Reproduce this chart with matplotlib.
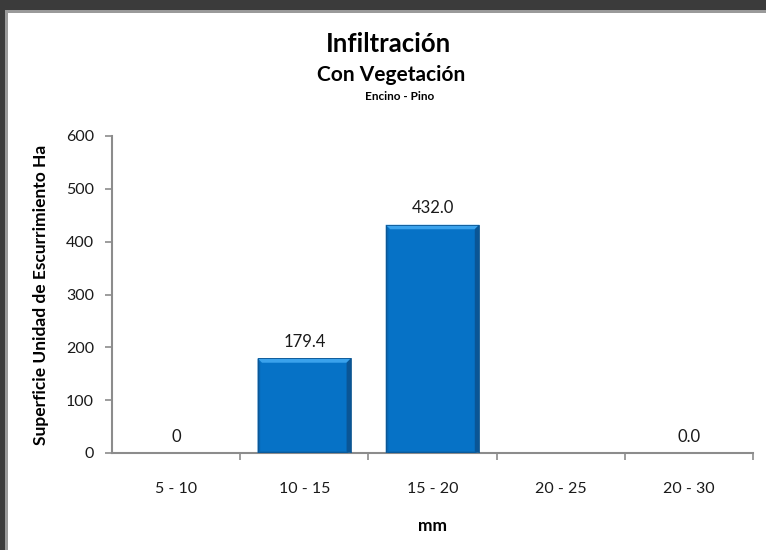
import matplotlib
matplotlib.use("Agg")
import matplotlib.pyplot as plt
from matplotlib.patches import Rectangle, Polygon

plt.rcParams['font.family'] = ['Lato', 'DejaVu Sans']

categories = ["5 - 10", "10 - 15", "15 - 20", "20 - 25", "20 - 30"]
values = [0.0, 179.4, 432.0, 0.0, 0.0]
value_labels = ["0", "179.4", "432.0", "", "0.0"]
y_ticks = [0, 100, 200, 300, 400, 500, 600]

title = "Infiltración"
subtitle = "Con Vegetación"
subsubtitle = "Encino - Pino"
xlabel = "mm"
ylabel = "Superficie Unidad de Escurrimiento Ha"

W, H = 766, 550
fig = plt.figure(figsize=(W / 100, H / 100), dpi=100)
fig.patch.set_facecolor("#3b3b3b")

# white chart sheet with a light grey rim
fig.patches.append(Rectangle((5 / W, 0), 1, 1 - 10 / H, transform=fig.transFigure,
                             facecolor="#9a9a9a", edgecolor="none", zorder=-10))
fig.patches.append(Rectangle((8 / W, 0), 1, 1 - 13 / H, transform=fig.transFigure,
                             facecolor="white", edgecolor="none", zorder=-9))

ax = fig.add_axes([112 / W, 1 - 453 / H, 641 / W, 317 / H])
ax.set_facecolor("none")
ax.set_zorder(5)

x = list(range(len(categories)))
bar_w = 0.73
bars = ax.bar(x, values, width=bar_w, color="#0672c6", edgecolor="none", zorder=2)

ax.set_xlim(-0.5, len(categories) - 0.5)
ax.set_ylim(0, 600)

# bevel shading on each bar
px_x = 1.0 / 128.0 * 4.5
px_y = 600.0 / 317.0 * 4.5
for b in bars:
    h = b.get_height()
    if h <= 0:
        continue
    x0, x1 = b.get_x(), b.get_x() + b.get_width()
    top = h
    ax.add_patch(Polygon([(x0, top), (x1, top), (x1 - px_x, top - px_y), (x0 + px_x, top - px_y)],
                         closed=True, facecolor="#3aa2ec", edgecolor="none", zorder=3))
    ax.add_patch(Polygon([(x1, top), (x1, 0), (x1 - px_x, px_y * 0.3), (x1 - px_x, top - px_y)],
                         closed=True, facecolor="#0a5595", edgecolor="none", zorder=3))
    ax.add_patch(Polygon([(x0, top), (x0, 0), (x0 + px_x * 0.6, px_y * 0.3), (x0 + px_x * 0.6, top - px_y)],
                         closed=True, facecolor="#0866b2", edgecolor="none", zorder=3))
    ax.add_patch(Polygon([(x0, 0), (x1, 0), (x1 - px_x, px_y * 0.3), (x0 + px_x * 0.6, px_y * 0.3)],
                         closed=True, facecolor="#085a9c", edgecolor="none", zorder=3))
    ax.add_patch(Rectangle((x0, 0), x1 - x0, top, facecolor="none",
                           edgecolor="#0d5590", linewidth=0.6, zorder=4))

for xi, v, lab in zip(x, values, value_labels):
    if lab:
        ax.annotate(lab, (xi, v), xytext=(0, 6), textcoords="offset points",
                    ha="center", va="bottom", fontsize=12, color="#1a1a1a")

for s in ("top", "right"):
    ax.spines[s].set_visible(False)
for s in ("left", "bottom"):
    ax.spines[s].set_color("#8c8c8c")
    ax.spines[s].set_linewidth(1.5)

ax.set_yticks(y_ticks)
ax.set_yticklabels([str(t) for t in y_ticks])
ax.set_xticks(x)
ax.set_xticklabels(categories)
ax.tick_params(axis="x", length=0, pad=21, labelsize=11.5, colors="#1a1a1a")
ax.tick_params(axis="y", direction="out", length=5, width=1.2, color="#8c8c8c",
               pad=8, labelsize=11.5, labelcolor="#1a1a1a")
# category separators on the x axis
ax.set_xticks([i - 0.5 for i in range(1, len(categories) + 1)], minor=True)
ax.tick_params(axis="x", which="minor", direction="out", length=5, width=1.2, color="#8c8c8c")

ax.set_xlabel(xlabel, fontsize=12.5, fontweight="bold", labelpad=16)
ax.set_ylabel(ylabel, fontsize=12.5, fontweight="bold", labelpad=12)

fig.text(388 / W, 1 - 44 / H, title, ha="center", va="center", fontsize=18.5, fontweight="bold")
fig.text(391 / W, 1 - 75 / H, subtitle, ha="center", va="center", fontsize=15, fontweight="bold")
fig.text(400 / W, 1 - 96 / H, subsubtitle, ha="center", va="center", fontsize=8.5, fontweight="bold")

fig.savefig("out.png", dpi=100, facecolor=fig.get_facecolor())
